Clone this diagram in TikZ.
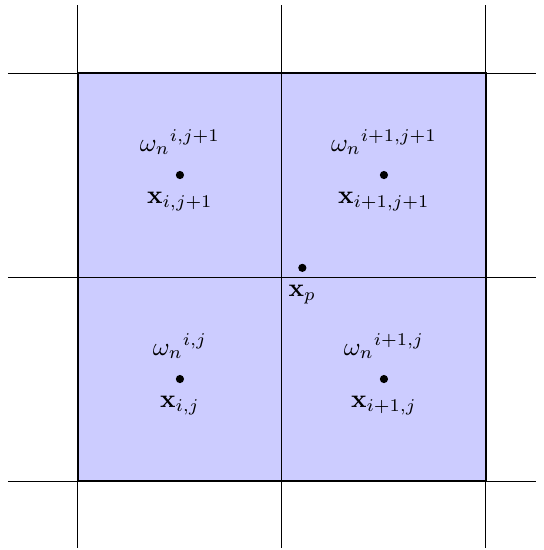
\documentclass[tikz,border=0pt]{standalone}
\usepackage{amsmath,amssymb}
\usetikzlibrary{positioning}
\newcommand{\gridh}[1]{\draw[thin] (-0.343,#1) --++ (2.588,0)}
\newcommand{\gridv}[1]{\draw[thin] (#1,-0.328) --++ (0,2.661)}
\newcommand{\cellpt}[4]{\node[pt] (#1) at (#2) {};
	\node[above=2.5pt of #1] (#1w) {${\omega_n}^{#3}$};
	\node[below=1.5pt of #1] (#1x) {$\mathbf{x}_{#4}$}}
\tikzset{pt/.style={circle,fill=black,inner sep=0pt,minimum size=3.2pt}}

\begin{document}
\begin{tikzpicture}[x=2.8cm,y=2.8cm]
\useasboundingbox (-0.382,-0.338) rectangle (2.284,2.358);
%Shaded cells
	\fill[blue!20] (0,0) rectangle (2,2);
%Grid
	\gridh{0};
	\gridh{1};
	\gridh{2};
	\gridv{0};
	\gridv{1};
	\gridv{2};
	\draw[semithick] (0,0) rectangle (2,2);
%Cell centres
	\cellpt{c00}{0.5,0.5}{i,j}{i,j};
	\cellpt{c10}{1.5,0.5}{i+1,j}{i+1,j};
	\cellpt{c01}{0.5,1.5}{i,j+1}{i,j+1};
	\cellpt{c11}{1.5,1.5}{i+1,j+1}{i+1,j+1};
%The particle
	\node[pt] (p) at (1.1,1.045) {};
	\node[below=1.5pt of p] (px) {$\mathbf{x}_p$};
\end{tikzpicture}
\end{document}
